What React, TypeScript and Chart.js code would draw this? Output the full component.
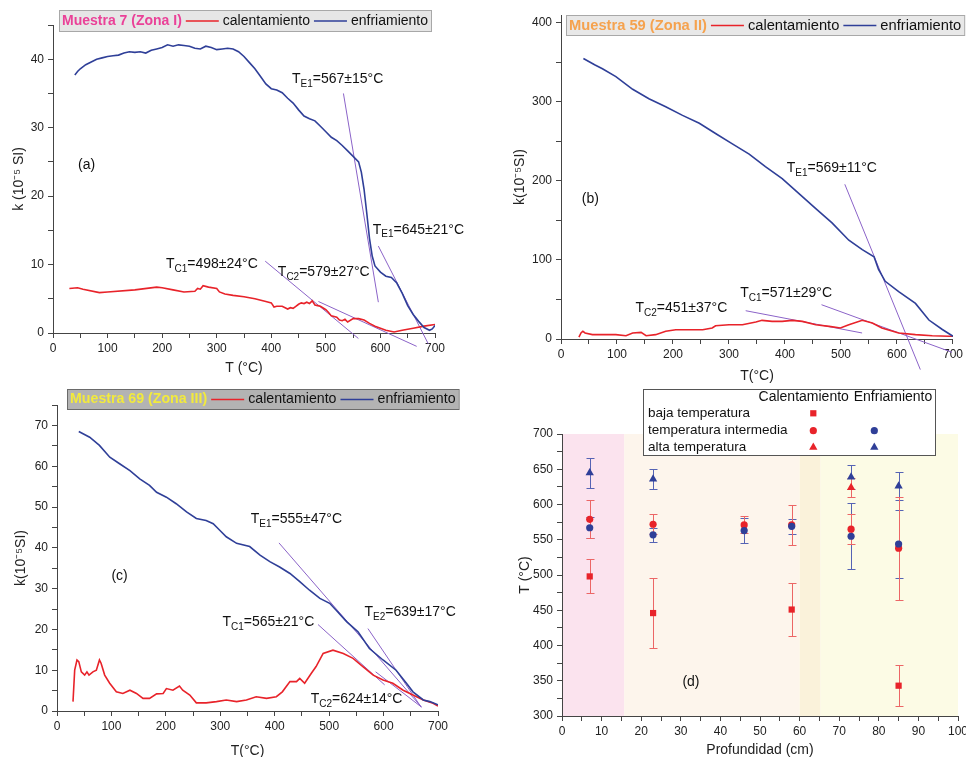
import React, { useEffect, useRef } from 'react';
import { Chart, registerables } from 'chart.js';

Chart.register(...registerables);

const FONT = '"Liberation Sans", Arial, Helvetica, sans-serif';
const RED = '#e8232a';
const BLUE = '#2f3f98';
const TANGENT = '#8b63c8';
const ERR_RED = '#ec6666';
const ERR_BLUE = '#5563b4';

// ---------- Panel (a): Muestra 7 (Zona I) ----------
const aCoolT = [40, 45, 50, 60, 70, 80, 90, 100, 110, 120, 130, 140, 150, 160, 170, 180, 190, 200, 210, 220, 230, 240, 250, 260, 270, 280, 290, 300, 310, 320, 330, 340, 350, 360, 370, 380, 390, 400, 410, 420, 430, 440, 450, 460, 470, 480, 490, 500, 510, 520, 530, 540, 550, 560, 565, 570, 575, 580, 585, 590, 600, 610, 620, 630, 640, 650, 660, 670, 680, 690, 695, 700];
const aCoolK = [37.7, 38.2, 38.6, 39.2, 39.6, 40.0, 40.2, 40.4, 40.5, 40.6, 40.9, 41.1, 41.0, 41.1, 40.9, 41.3, 41.5, 41.7, 42.1, 41.9, 42.1, 42.0, 41.9, 41.6, 41.5, 41.9, 41.7, 41.4, 41.5, 41.6, 41.5, 41.1, 40.4, 39.5, 38.6, 37.5, 36.4, 35.7, 35.5, 35.1, 34.3, 33.6, 32.6, 31.7, 31.3, 31.0, 30.2, 29.4, 28.6, 28.1, 27.4, 26.6, 25.8, 25.0, 23.5, 21.0, 17.5, 13.8, 11.2, 9.8, 8.9, 8.3, 8.1, 7.3, 5.8, 4.0, 2.7, 1.7, 0.8, 0.4, 0.6, 1.1];
const aHeatT = [30, 45, 55, 85, 100, 150, 190, 200, 220, 240, 260, 265, 270, 275, 285, 300, 305, 315, 330, 350, 370, 390, 400, 405, 410, 420, 430, 435, 440, 445, 450, 455, 460, 465, 470, 475, 480, 485, 490, 500, 505, 510, 520, 525, 530, 535, 540, 550, 560, 570, 580, 590, 600, 610, 625, 640, 660, 680, 700];
const aHeatK = [6.5, 6.6, 6.4, 5.9, 6.0, 6.3, 6.7, 6.6, 6.3, 6.0, 6.1, 6.5, 6.4, 6.9, 6.7, 6.5, 6.0, 5.7, 5.5, 5.3, 5.0, 4.6, 4.4, 3.8, 3.9, 3.9, 3.5, 3.7, 3.6, 3.9, 4.2, 4.4, 4.3, 4.5, 4.3, 4.7, 4.1, 4.0, 3.9, 3.4, 3.0, 2.5, 2.3, 1.9, 1.8, 2.0, 1.6, 2.1, 2.1, 1.9, 1.4, 1.0, 0.7, 0.4, 0.15, 0.4, 0.7, 1.0, 1.25];
const aTangents = [[532.2, 35.0, 596.2, 4.5], [596.2, 12.7, 687.8, -1.6], [388.8, 10.5, 559.6, -0.8], [486.4, 4.6, 666.4, -1.95]];
const aLabels = [
  { main: 'T', sub: 'E1', rest: '=567±15°C', t: 438, k: 37.1 },
  { main: 'T', sub: 'E1', rest: '=645±21°C', t: 586, k: 15.1 },
  { main: 'T', sub: 'C1', rest: '=498±24°C', t: 207, k: 10.0 },
  { main: 'T', sub: 'C2', rest: '=579±27°C', t: 412, k: 8.9 },
  { main: '(a)', sub: '', rest: '', t: 46, k: 24.5 },
];

// ---------- Panel (b): Muestra 59 (Zona II) ----------
const bCoolT = [40, 60, 74, 98, 128, 157, 187, 217, 247, 276, 306, 336, 365, 395, 425, 455, 484, 514, 538, 559, 567, 579, 603, 633, 657, 681, 700];
const bCoolK = [355, 347, 342, 332, 316, 304, 294, 283, 273, 260, 247, 234, 218, 203, 184, 165, 147, 125, 113, 104, 88, 73, 60, 45, 24, 12, 3.4];
const bHeatT = [32, 36, 39, 43, 56, 98, 116, 128, 143, 152, 169, 187, 205, 229, 253, 270, 276, 300, 324, 348, 359, 377, 395, 413, 431, 455, 479, 499, 514, 538, 556, 573, 603, 633, 663, 693, 700];
const bHeatK = [2.5, 8, 9.7, 7.6, 5.5, 5.5, 4.2, 7.6, 8.4, 4.2, 5.5, 9.7, 11.8, 11.8, 11.8, 13.9, 16.8, 18, 18, 21.5, 23.6, 22.3, 22.3, 23.6, 22.3, 18, 16, 13.9, 18, 23.6, 20.2, 13.9, 7.6, 5.5, 4.2, 3.4, 3.4];
const bTangents = [[506.8, 195.8, 641.7, -38.7], [329.8, 35.8, 537.7, 7.6], [465.2, 43.4, 698.2, -16.8]];
const bLabels = [
  { main: 'T', sub: 'E1', rest: '=569±11°C', t: 403, k: 216 },
  { main: 'T', sub: 'C1', rest: '=571±29°C', t: 320, k: 58.5 },
  { main: 'T', sub: 'C2', rest: '=451±37°C', t: 133, k: 39.5 },
  { main: '(b)', sub: '', rest: '', t: 37, k: 177 },
];

// ---------- Panel (c): Muestra 69 (Zona III) ----------
const cCoolT = [40, 60, 78, 97, 115, 134, 152, 170, 183, 201, 219, 238, 256, 274, 287, 299, 311, 330, 354, 373, 391, 409, 428, 446, 464, 483, 501, 513, 532, 553, 574, 599, 623, 642, 654, 673, 685, 700];
const cCoolK = [68.5, 67.1, 65.1, 62.2, 60.6, 58.9, 56.9, 55.3, 53.6, 52.4, 50.8, 48.8, 47.2, 46.7, 45.9, 44.3, 42.7, 41.1, 40.3, 38.2, 36.6, 35.3, 33.7, 31.7, 29.6, 27.6, 26.4, 24.7, 21.9, 19.4, 15.3, 12.5, 10.0, 6.8, 4.7, 2.7, 2.3, 1.5];
const cHeatT = [29.4, 32.5, 36.7, 40, 44.7, 50.8, 55, 58.8, 66, 72.3, 78, 81, 87.6, 96.8, 109, 121, 134, 146, 158, 170, 183, 195, 201, 213, 225, 231, 244, 256, 274, 293, 311, 330, 348, 366, 385, 403, 414, 428, 440, 446, 455, 467, 476, 489, 507, 526, 544, 562, 581, 599, 617, 636, 654, 673, 691, 700];
const cHeatK = [2.3, 10.0, 12.5, 12.1, 9.6, 8.8, 9.6, 8.8, 9.6, 10.0, 12.5, 11.7, 8.8, 6.8, 4.7, 4.3, 5.1, 4.3, 3.1, 3.1, 4.2, 4.3, 5.5, 5.1, 6.1, 5.1, 3.9, 2.0, 2.0, 2.3, 2.7, 2.3, 2.7, 3.5, 3.1, 3.5, 4.7, 7.2, 7.2, 8.0, 6.8, 9.2, 10.9, 14.1, 14.9, 14.1, 12.9, 10.9, 8.8, 7.6, 6.8, 5.1, 3.9, 2.7, 1.9, 1.2];
const cTangents = [[407.8, 41.2, 669.3, 1.0], [571.3, 20.2, 669.3, 0.9], [479.5, 21.2, 602, 6.4], [585.4, 9.6, 669.3, 1.0]];
const cLabels = [
  { main: 'T', sub: 'E1', rest: '=555±47°C', t: 356, k: 47 },
  { main: 'T', sub: 'E2', rest: '=639±17°C', t: 565, k: 24.2 },
  { main: 'T', sub: 'C1', rest: '=565±21°C', t: 304, k: 21.8 },
  { main: 'T', sub: 'C2', rest: '=624±14°C', t: 466, k: 2.9 },
  { main: '(c)', sub: '', rest: '', t: 100, k: 33 },
];

// ---------- Panel (d): temperatures vs depth ----------
const depthBaja = [7, 23, 58, 85];
const heatBaja = [498, 446, 451, 343];
const heatBajaErr = [24, 50, 37, 29];
const depthInter = [7, 23, 46, 58, 73, 85];
const heatInter = [579, 572, 571, 571, 565, 538];
const heatInterErr = [27, 14, 12, 29, 21, 73];
const coolInter = [567, 557, 563, 569, 555, 544];
const coolInterErr = [15, 10, 18, 11, 47, 48];
const depthAltaHeat = [73];
const heatAlta = [624];
const heatAltaErr = [14];
const depthAltaCool = [7, 23, 73, 85];
const coolAlta = [645, 636, 639, 626];
const coolAltaErr = [21, 14, 17, 20];
const zoneBands = [[0, 15.7], [15.7, 60], [60, 65.3], [65.3, 100]];
const zoneColors = ['#fbe3ee', '#fdf5ec', '#faf2da', '#fcfbe5'];

const zip = (xs: number[], ys: number[]) => xs.map((x, i) => ({ x, y: ys[i] }));

function marker(ctx: any, style: string, x: number, y: number, color: string, r: number) {
  ctx.fillStyle = color;
  ctx.beginPath();
  if (style === 'rect') {
    const s = Math.SQRT1_2 * r;
    ctx.rect(x - s, y - s, 2 * s, 2 * s);
  } else if (style === 'circle') {
    ctx.arc(x, y, r, 0, Math.PI * 2);
  } else {
    let a = 0;
    ctx.moveTo(x + Math.sin(a) * r, y - Math.cos(a) * r);
    a += (2 * Math.PI) / 3;
    ctx.lineTo(x + Math.sin(a) * r, y - Math.cos(a) * r);
    a += (2 * Math.PI) / 3;
    ctx.lineTo(x + Math.sin(a) * r, y - Math.cos(a) * r);
    ctx.closePath();
  }
  ctx.fill();
}

const annotPlugin = {
  id: 'annot',
  afterDatasetsDraw(chart: any, _a: any, o: any) {
    const { ctx } = chart;
    const xs = chart.scales.x;
    const ys = chart.scales.y;
    ctx.save();
    ctx.fillStyle = '#111';
    ctx.textBaseline = 'middle';
    ctx.textAlign = 'left';
    (o.items || []).forEach((it: any) => {
      let px = xs.getPixelForValue(it.t);
      const py = ys.getPixelForValue(it.k);
      ctx.font = `14px ${FONT}`;
      ctx.fillText(it.main, px, py);
      px += ctx.measureText(it.main).width;
      if (it.sub) {
        ctx.font = `10px ${FONT}`;
        ctx.fillText(it.sub, px, py + 5);
        px += ctx.measureText(it.sub).width;
      }
      if (it.rest) {
        ctx.font = `14px ${FONT}`;
        ctx.fillText(it.rest, px, py);
      }
    });
    ctx.restore();
  },
};

const boxLegendPlugin = {
  id: 'boxLegend',
  afterDraw(chart: any, _a: any, o: any) {
    const { ctx } = chart;
    const fs = o.fontSize;
    ctx.save();
    ctx.font = `bold ${fs}px ${FONT}`;
    const tw = ctx.measureText(o.title).width;
    ctx.font = `${fs}px ${FONT}`;
    const w1 = ctx.measureText('calentamiento').width;
    const w2 = ctx.measureText('enfriamiento').width;
    const lineLen = 33;
    const gap = 4;
    const width = 3 + tw + gap + lineLen + gap + w1 + gap + lineLen + gap + w2 + 3;
    ctx.fillStyle = o.fill;
    ctx.fillRect(o.x, o.y, width, o.h);
    ctx.strokeStyle = o.border;
    ctx.lineWidth = 1;
    ctx.strokeRect(o.x + 0.5, o.y + 0.5, width, o.h);
    const cy = o.y + o.h / 2 + 0.5;
    ctx.textBaseline = 'middle';
    ctx.textAlign = 'left';
    let x = o.x + 3;
    ctx.font = `bold ${fs}px ${FONT}`;
    ctx.fillStyle = o.titleColor;
    ctx.fillText(o.title, x, cy);
    x += tw + gap;
    ctx.lineWidth = 1.6;
    ctx.strokeStyle = RED;
    ctx.beginPath();
    ctx.moveTo(x, cy);
    ctx.lineTo(x + lineLen, cy);
    ctx.stroke();
    x += lineLen + gap;
    ctx.font = `${fs}px ${FONT}`;
    ctx.fillStyle = '#111';
    ctx.fillText('calentamiento', x, cy);
    x += w1 + gap;
    ctx.strokeStyle = BLUE;
    ctx.beginPath();
    ctx.moveTo(x, cy);
    ctx.lineTo(x + lineLen, cy);
    ctx.stroke();
    x += lineLen + gap;
    ctx.fillText('enfriamiento', x, cy);
    ctx.restore();
  },
};

const bandsPlugin = {
  id: 'bands',
  beforeDraw(chart: any) {
    const { ctx, chartArea } = chart;
    const xs = chart.scales.x;
    ctx.save();
    zoneBands.forEach((b, i) => {
      const x1 = xs.getPixelForValue(b[0]);
      const x2 = xs.getPixelForValue(b[1]);
      ctx.fillStyle = zoneColors[i];
      ctx.fillRect(x1, chartArea.top, x2 - x1, chartArea.bottom - chartArea.top);
    });
    ctx.restore();
  },
};

const errorBarsPlugin = {
  id: 'errorBars',
  beforeDatasetsDraw(chart: any) {
    const { ctx } = chart;
    const xs = chart.scales.x;
    const ys = chart.scales.y;
    ctx.save();
    ctx.lineWidth = 1;
    chart.data.datasets.forEach((ds: any) => {
      if (!ds.errors) return;
      ctx.strokeStyle = ds.errorColor;
      ds.data.forEach((p: any, j: number) => {
        const x = Math.round(xs.getPixelForValue(p.x)) + 0.5;
        const y1 = Math.round(ys.getPixelForValue(p.y + ds.errors[j])) + 0.5;
        const y2 = Math.round(ys.getPixelForValue(p.y - ds.errors[j])) + 0.5;
        ctx.beginPath();
        ctx.moveTo(x, y1);
        ctx.lineTo(x, y2);
        ctx.moveTo(x - 4, y1);
        ctx.lineTo(x + 4, y1);
        ctx.moveTo(x - 4, y2);
        ctx.lineTo(x + 4, y2);
        ctx.stroke();
      });
    });
    ctx.restore();
  },
};

const tableLegendPlugin = {
  id: 'tableLegend',
  afterDraw(chart: any, _a: any, o: any) {
    const { ctx } = chart;
    ctx.save();
    ctx.fillStyle = '#fff';
    ctx.fillRect(o.x, o.y, o.w, o.h);
    ctx.strokeStyle = '#555';
    ctx.lineWidth = 1;
    ctx.strokeRect(o.x + 0.5, o.y + 0.5, o.w, o.h);
    ctx.fillStyle = '#111';
    ctx.textBaseline = 'middle';
    ctx.textAlign = 'center';
    ctx.font = `14px ${FONT}`;
    ctx.fillText('Calentamiento', o.col1, o.headerY);
    ctx.fillText('Enfriamiento', o.col2, o.headerY);
    ctx.textAlign = 'left';
    ctx.font = `13.5px ${FONT}`;
    o.rows.forEach((r: any, i: number) => {
      const y = o.rowY[i];
      ctx.fillStyle = '#111';
      ctx.fillText(r.label, o.x + 5, y);
      if (r.heat) marker(ctx, r.heat, o.m1, y, RED, r.heat === 'circle' ? 3.6 : r.heat === 'rect' ? 4.4 : 4.8);
      if (r.cool) marker(ctx, r.cool, o.m2, y, BLUE, r.cool === 'circle' ? 3.6 : 4.8);
    });
    ctx.restore();
  },
};

function linearAxis(p: any) {
  return {
    type: 'linear',
    min: p.min,
    max: p.max,
    ticks: {
      stepSize: p.step,
      autoSkip: false,
      maxRotation: 0,
      includeBounds: false,
      callback: (v: number) => (Math.abs(v % p.major) < 1e-6 ? String(v) : ''),
      font: { size: 12, family: FONT },
      color: '#222',
      padding: p.tickPad,
    },
    grid: {
      drawOnChartArea: false,
      drawTicks: true,
      tickLength: 5,
      tickColor: '#444',
    },
    border: { display: true, color: '#444', width: 1 },
    title: {
      display: true,
      text: p.title,
      font: { size: 14, family: FONT },
      color: '#222',
      padding: p.titlePad,
    },
    afterFit: (s: any) => {
      if (p.width !== undefined) s.width = p.width;
      if (p.height !== undefined) s.height = p.height;
    },
  };
}

function curveConfig(p: any): any {
  const datasets: any[] = [
    { data: zip(p.coolT, p.coolK), borderColor: BLUE, borderWidth: 1.6, showLine: true, pointRadius: 0, tension: 0 },
    { data: zip(p.heatT, p.heatK), borderColor: RED, borderWidth: 1.6, showLine: true, pointRadius: 0, tension: 0 },
    ...p.tangents.map((s: number[]) => ({
      data: [{ x: s[0], y: s[1] }, { x: s[2], y: s[3] }],
      borderColor: TANGENT,
      borderWidth: 1,
      showLine: true,
      pointRadius: 0,
      clip: false,
    })),
  ];
  return {
    type: 'scatter',
    data: { datasets },
    plugins: [annotPlugin, boxLegendPlugin],
    options: {
      responsive: false,
      animation: false,
      devicePixelRatio: 1,
      events: [],
      layout: { padding: p.padding },
      plugins: {
        legend: { display: false },
        tooltip: { enabled: false },
        annot: { items: p.labels },
        boxLegend: p.legend,
      },
      scales: {
        x: linearAxis({ min: 0, max: 700, step: 50, major: 100, title: p.xTitle, titlePad: p.xTitlePad, height: p.xHeight, tickPad: 3 }),
        y: linearAxis({ min: 0, max: p.yMax, step: p.yStep, major: p.yMajor, title: p.yTitle, titlePad: p.yTitlePad, width: p.yWidth, tickPad: 4 }),
      },
    },
  };
}

function scatterSet(xs: number[], ys: number[], errs: number[], color: string, errColor: string, style: string, r: number) {
  return {
    data: zip(xs, ys),
    errors: errs,
    errorColor: errColor,
    backgroundColor: color,
    borderColor: color,
    borderWidth: 0,
    pointStyle: style,
    pointRadius: r,
    showLine: false,
  };
}

function depthConfig(): any {
  return {
    type: 'scatter',
    data: {
      datasets: [
        scatterSet(depthInter, coolInter, coolInterErr, BLUE, ERR_BLUE, 'circle', 3.6),
        scatterSet(depthAltaCool, coolAlta, coolAltaErr, BLUE, ERR_BLUE, 'triangle', 4.8),
        scatterSet(depthBaja, heatBaja, heatBajaErr, RED, ERR_RED, 'rect', 4.4),
        scatterSet(depthInter, heatInter, heatInterErr, RED, ERR_RED, 'circle', 3.6),
        scatterSet(depthAltaHeat, heatAlta, heatAltaErr, RED, ERR_RED, 'triangle', 4.8),
      ],
    },
    plugins: [bandsPlugin, errorBarsPlugin, annotPlugin, tableLegendPlugin],
    options: {
      responsive: false,
      animation: false,
      devicePixelRatio: 1,
      events: [],
      layout: { padding: { left: 0, right: 20, top: 54, bottom: 0 } },
      plugins: {
        legend: { display: false },
        tooltip: { enabled: false },
        annot: { items: [{ main: '(d)', sub: '', rest: '', t: 30.4, k: 348 }] },
        tableLegend: {
          x: 160, y: 9, w: 292, h: 66,
          headerY: 17, col1: 320.7, col2: 410,
          rowY: [33.3, 50.7, 67.3], m1: 330.3, m2: 391.3,
          rows: [
            { label: 'baja temperatura', heat: 'rect' },
            { label: 'temperatura intermedia', heat: 'circle', cool: 'circle' },
            { label: 'alta temperatura', heat: 'triangle', cool: 'triangle' },
          ],
        },
      },
      scales: {
        x: linearAxis({ min: 0, max: 100, step: 5, major: 10, title: 'Profundidad (cm)', titlePad: { top: 0, bottom: -2 }, height: 41, tickPad: 3 }),
        y: linearAxis({ min: 300, max: 700, step: 25, major: 50, title: 'T (°C)', titlePad: { top: 34, bottom: 0 }, width: 79, tickPad: 4 }),
      },
    },
  };
}

export default function App() {
  const refA = useRef<HTMLCanvasElement>(null);
  const refB = useRef<HTMLCanvasElement>(null);
  const refC = useRef<HTMLCanvasElement>(null);
  const refD = useRef<HTMLCanvasElement>(null);

  useEffect(() => {
    const charts = [
      new Chart(refA.current as any, curveConfig({
        coolT: aCoolT, coolK: aCoolK, heatT: aHeatT, heatK: aHeatK, tangents: aTangents, labels: aLabels,
        padding: { left: 0, right: 48, top: 25, bottom: 0 },
        yMax: 45, yStep: 5, yMajor: 10,
        xTitle: 'T (°C)', xTitlePad: { top: 0, bottom: 3 }, xHeight: 47,
        yTitle: 'k (10⁻⁵ SI)', yTitlePad: { top: 11, bottom: 0 }, yWidth: 53,
        legend: { x: 59, y: 10, h: 21, fontSize: 14, title: 'Muestra 7 (Zona I)', titleColor: '#ea4198', fill: '#e6e6e6', border: '#a8a8a8' },
      })),
      new Chart(refB.current as any, curveConfig({
        coolT: bCoolT, coolK: bCoolK, heatT: bHeatT, heatK: bHeatK, tangents: bTangents, labels: bLabels,
        padding: { left: 0, right: 12, top: 15, bottom: 0 },
        yMax: 410, yStep: 50, yMajor: 100,
        xTitle: 'T(°C)', xTitlePad: { top: 0, bottom: 5 }, xHeight: 51,
        yTitle: 'k(10⁻⁵SI)', yTitlePad: { top: 29, bottom: 0 }, yWidth: 78,
        legend: { x: 83, y: 15, h: 20, fontSize: 14.7, title: 'Muestra 59 (Zona II)', titleColor: '#f5a24e', fill: '#e8e8e8', border: '#a8a8a8' },
      })),
      new Chart(refC.current as any, curveConfig({
        coolT: cCoolT, coolK: cCoolK, heatT: cHeatT, heatK: cHeatK, tangents: cTangents, labels: cLabels,
        padding: { left: 0, right: 45, top: 30, bottom: 0 },
        yMax: 75, yStep: 5, yMajor: 10,
        xTitle: 'T(°C)', xTitlePad: { top: 0, bottom: -3 }, xHeight: 46,
        yTitle: 'k(10⁻⁵SI)', yTitlePad: { top: 13, bottom: 0 }, yWidth: 57,
        legend: { x: 67, y: 14, h: 20, fontSize: 14.2, title: 'Muestra 69 (Zona III)', titleColor: '#f2ea3c', fill: '#b3b3b3', border: '#6a6a6a' },
      })),
      new Chart(refD.current as any, depthConfig()),
    ];
    return () => charts.forEach((c) => c.destroy());
  }, []);

  const abs = (left: number, top: number): any => ({ position: 'absolute', left, top });
  return (
    <div style={{ position: 'fixed', left: 0, top: 0, width: 966, height: 757, overflow: 'hidden', background: '#fff' }}>
      <canvas ref={refA} width={483} height={380} style={abs(0, 0)} />
      <canvas ref={refB} width={483} height={390} style={abs(483, 0)} />
      <canvas ref={refC} width={483} height={382} style={abs(0, 375)} />
      <canvas ref={refD} width={495} height={377} style={abs(483, 380)} />
    </div>
  );
}
